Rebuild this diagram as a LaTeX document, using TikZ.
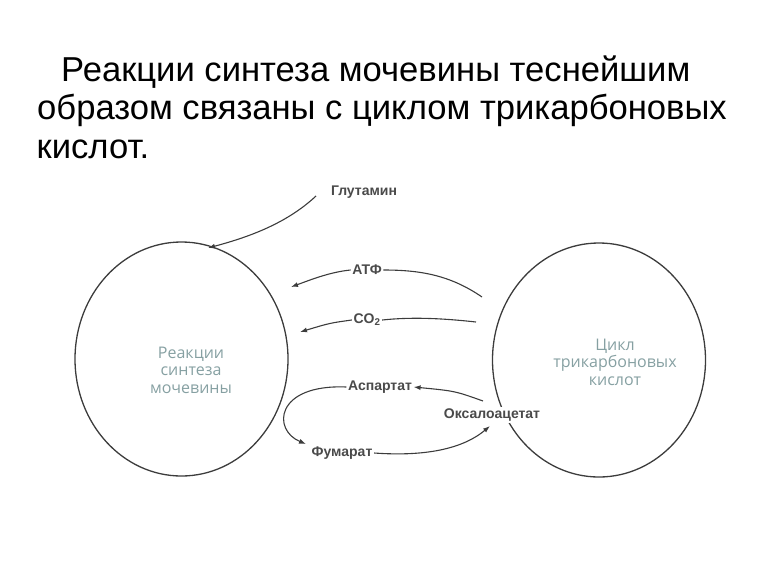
\documentclass[tikz,border=0pt]{standalone}
\usepackage{fontspec}
\setmainfont{Liberation Sans}
\newfontfamily\circfont{Open Sans}
\usetikzlibrary{arrows.meta,shapes.geometric}
\definecolor{lineC}{HTML}{3C3C3C}
\definecolor{labC}{HTML}{4A4A4A}
\definecolor{circT}{HTML}{86A0A2}
\begin{document}
\begin{tikzpicture}[x=1pt,y=-1pt,
  titleline/.style={anchor=base west, inner sep=0pt, font=\fontsize{34.6}{40}\selectfont},
  lab/.style={inner sep=1.5pt, fill=white, text=labC, font=\bfseries\fontsize{14}{16}\selectfont},
  bubble/.style={draw=lineC, line width=1.3pt, ellipse, inner sep=0pt, minimum width=213pt, minimum height=234pt},
  bubtext/.style={align=center, text=circT, font=\circfont\fontsize{16}{17.5}\selectfont},
  conn/.style={draw=lineC, line width=1.1pt},
  arr/.style={conn, -{Latex[length=7pt,width=5pt]}}]
\useasboundingbox (0,0) rectangle (768,576);
% title
\node[titleline] (t1) at (61,81) {Реакции синтеза мочевины теснейшим};
\node[titleline] (t2) at (37,119) {образом связаны с циклом трикарбоновых};
\node[titleline] (t3) at (36.5,158) {кислот.};
% ellipses
\node[bubble] (urea) at (181.5,359) {};
\node[bubble] (tca) at (599,360) {};
\node[bubtext] (ureaT) at (191,370) {Реакции\\синтеза\\мочевины};
\node[bubtext] (tcaT) at (615,362) {Цикл\\трикарбоновых\\кислот};
% labels
\node[lab] (glu) at (364,192) {Глутамин};
\node[lab] (atf) at (367,270) {АТФ};
\node[lab] (co) at (367,320) {CO\textsubscript{2}};
\node[lab] (asp) at (380,387) {Аспартат};
\node[lab] (oks) at (492,415) {Оксалоацетат};
\node[lab] (fum) at (342,453) {Фумарат};
% coordinates
\coordinate (gluS) at (316,196);
\coordinate (gluT) at (208,248);
\coordinate (atfR) at (482,297);
\coordinate (atfT) at (291,287);
\coordinate (coR) at (476,322);
\coordinate (coT) at (300,332);
\coordinate (aspS) at (483,401);
\coordinate (fumT) at (306,444);
\coordinate (oksT) at (490,426);
% connectors
\draw[arr] (gluS) .. controls (285,225) and (245,238) .. (gluT);
\draw[conn] (atfR) .. controls (450,275) and (420,270) .. (atf.east);
\draw[arr] (atf.west) .. controls (330,272) and (310,280) .. (atfT);
\draw[conn] (coR) .. controls (440,318) and (410,317) .. (co.east);
\draw[arr] (co.west) .. controls (330,323) .. (coT);
\draw[arr] (aspS) .. controls (455,391) .. (asp.east);
\draw[arr] (asp.west) .. controls (275,384) and (272,430) .. (fumT);
\draw[arr] (fum.east) .. controls (430,457) and (465,447) .. (oksT);
\end{tikzpicture}
\end{document}
